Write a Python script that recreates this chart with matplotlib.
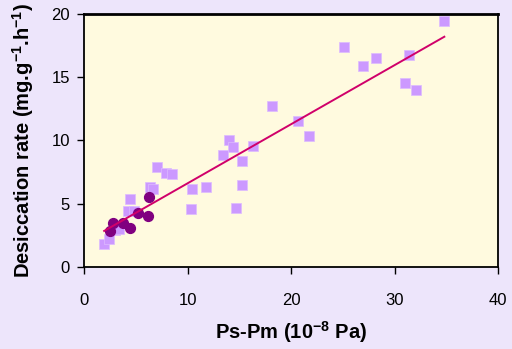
import numpy as np
import matplotlib
matplotlib.use('Agg')
import matplotlib.pyplot as plt

plt.rcParams['font.family'] = ['Liberation Sans', 'DejaVu Sans']
plt.rcParams['mathtext.fontset'] = 'custom'
plt.rcParams['mathtext.rm'] = 'Liberation Sans:bold'
plt.rcParams['mathtext.bf'] = 'Liberation Sans:bold'
plt.rcParams['mathtext.default'] = 'bf'

# Квадраты (светло-фиолетовые)
sq_x = [1.9, 2.4, 3.0, 3.4, 4.4, 4.3, 4.8, 6.4, 6.7, 7.1, 7.9, 8.5,
        10.3, 10.4, 11.8, 13.4, 14.0, 14.35, 14.7, 15.3, 15.3, 16.3,
        18.2, 20.7, 21.7, 25.1, 26.9, 28.2, 31.0, 31.4, 32.1, 34.8]
sq_y = [1.85, 2.2, 2.9, 3.0, 5.35, 4.45, 4.45, 6.35, 6.2, 7.9, 7.45, 7.35,
        4.55, 6.2, 6.35, 8.85, 10.0, 9.5, 4.7, 6.5, 8.4, 9.6,
        12.75, 11.5, 10.35, 17.4, 15.9, 16.55, 14.55, 16.75, 14.0, 19.45]

# Кружки (тёмно-фиолетовые)
dot_x = [2.5, 2.8, 3.75, 4.4, 5.2, 6.15, 6.3]
dot_y = [2.85, 3.45, 3.5, 3.05, 4.25, 4.0, 5.55]

# Линия тренда
fit_x = [1.95, 34.8]
fit_y = [2.85, 18.2]

fig = plt.figure(figsize=(5.12, 3.49), dpi=100, facecolor='#EDE5FB')
ax = fig.add_axes([0.164, 0.235, 0.809, 0.725])
ax.set_facecolor('#FFFADF')

ax.scatter(sq_x, sq_y, marker='s', s=55, color='#CC99FF', edgecolors='#DDBBFF',
           linewidths=0.5, zorder=3)
ax.scatter(dot_x, dot_y, marker='o', s=50, color='#800080', zorder=4)
ax.plot(fit_x, fit_y, color='#D0006A', linewidth=1.4, zorder=5)

ax.set_xlim(0, 40)
ax.set_ylim(0, 20)
ax.set_xticks([0, 10, 20, 30, 40])
ax.set_yticks([0, 5, 10, 15, 20])
ax.tick_params(direction='out', length=5, width=1, labelsize=12, colors='black')
ax.tick_params(axis='x', pad=14)
ax.tick_params(axis='y', pad=5)
for s in ax.spines.values():
    s.set_linewidth(1.3)
    s.set_color('black')
ax.spines['top'].set_linewidth(2)

ax.set_xlabel(r'Ps-Pm (10$^{-8}$ Pa)', fontsize=14.5, fontweight='bold', labelpad=8)
ax.set_ylabel(r'Desiccation rate (mg.g$^{-1}$.h$^{-1}$)', fontsize=14.5,
              fontweight='bold', labelpad=11)

fig.savefig('out.png', dpi=100, facecolor=fig.get_facecolor())
